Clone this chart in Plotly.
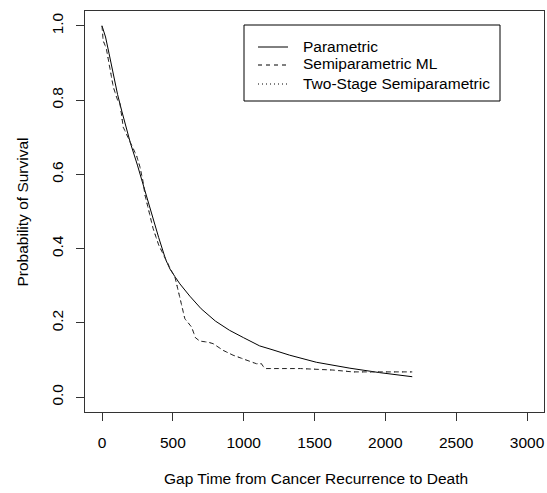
import plotly.graph_objects as go

# ---- data ----
param_t = [0, 25, 50, 80, 110, 140, 170, 200, 250, 300, 350, 400, 450, 480, 514,
           550, 620, 700, 800, 900, 1000, 1113, 1200, 1325, 1513, 1750, 1960, 2190]
param_s = [1.00, 0.97, 0.925, 0.865, 0.815, 0.77, 0.725, 0.685, 0.625, 0.56, 0.49,
           0.43, 0.37, 0.345, 0.325, 0.305, 0.272, 0.238, 0.205, 0.18, 0.16, 0.138,
           0.128, 0.113, 0.094, 0.078, 0.066, 0.055]

semi_t = [0, 8, 30, 80, 110, 127, 150, 197, 244, 268, 290, 303, 330, 360, 400, 450,
          490, 514, 530, 550, 585, 632, 660, 690, 750, 785, 855, 925, 1020, 1090,
          1125, 1149, 1400, 1630, 1771, 2190]
semi_s = [1.00, 0.96, 0.94, 0.835, 0.80, 0.79, 0.727, 0.686, 0.65, 0.62, 0.58, 0.545,
          0.50, 0.455, 0.41, 0.37, 0.34, 0.325, 0.30, 0.261, 0.211, 0.189, 0.16, 0.151,
          0.148, 0.144, 0.126, 0.113, 0.099, 0.090, 0.090, 0.077, 0.077, 0.073, 0.068,
          0.068]

two_t = [0, 8, 30, 80, 110, 127, 150, 197, 244, 268, 290, 303, 330, 360, 400, 450,
         490, 514, 530, 550, 585, 632, 660, 690, 750, 785, 855, 925, 1020, 1090,
         1125, 1149, 1400, 1630, 1771, 2190]
two_s = [1.00, 0.96, 0.94, 0.835, 0.80, 0.79, 0.727, 0.686, 0.65, 0.62, 0.58, 0.545,
         0.50, 0.455, 0.41, 0.37, 0.34, 0.325, 0.30, 0.261, 0.211, 0.189, 0.16, 0.151,
         0.148, 0.144, 0.126, 0.113, 0.099, 0.090, 0.090, 0.077, 0.077, 0.073, 0.068,
         0.068]

x_ticks = [0, 500, 1000, 1500, 2000, 2500, 3000]
y_ticks = [0.0, 0.2, 0.4, 0.6, 0.8, 1.0]
y_tick_labels = ["0.0", "0.2", "0.4", "0.6", "0.8", "1.0"]
legend_labels = ["Parametric", "Semiparametric ML", "Two-Stage Semiparametric"]
x_title = "Gap Time from Cancer Recurrence to Death"
y_title = "Probability of Survival"

FONT = "Liberation Sans, Arial, sans-serif"
FS = 15.5
W, H = 547, 493
ML, MR, MT, MB = 85, 3, 11, 81
PW, PH = W - ML - MR, H - MT - MB

def px(x):
    return (x - ML) / PW

def py(y):
    return (H - MB - y) / PH

dashes = ["solid", "4px,4px", "1px,3px"]

fig = go.Figure()
fig.add_trace(go.Scatter(x=param_t, y=param_s, mode="lines",
                         line=dict(color="black", width=1, dash=dashes[0]),
                         showlegend=False))
fig.add_trace(go.Scatter(x=semi_t, y=semi_s, mode="lines",
                         line=dict(color="#222", width=1, dash=dashes[1]),
                         showlegend=False))
fig.add_trace(go.Scatter(x=two_t, y=two_s, mode="lines",
                         line=dict(color="#444", width=1, dash=dashes[2]),
                         showlegend=False))

shapes = []
annotations = []
# legend box
shapes.append(dict(type="rect", xref="paper", yref="paper",
                   x0=px(244), x1=px(500), y0=py(101), y1=py(25),
                   line=dict(color="black", width=1)))
rows = [46, 64, 83]
for i, lab in enumerate(legend_labels):
    shapes.append(dict(type="line", xref="paper", yref="paper",
                       x0=px(258), x1=px(288), y0=py(rows[i] + 1), y1=py(rows[i] + 1),
                       line=dict(color="black", width=1, dash=dashes[i])))
    annotations.append(dict(xref="paper", yref="paper", x=px(301), y=py(rows[i]),
                            text=lab, showarrow=False, xanchor="left", yanchor="middle",
                            font=dict(family=FONT, size=FS, color="black")))

annotations.append(dict(xref="paper", yref="paper", x=px(ML + PW / 2 + 1), y=py(479),
                        text=x_title, showarrow=False, xanchor="center", yanchor="middle",
                        font=dict(family=FONT, size=FS, color="black")))
annotations.append(dict(xref="paper", yref="paper", x=px(22), y=py(MT + PH / 2),
                        text=y_title, showarrow=False, xanchor="center", yanchor="middle",
                        textangle=-90,
                        font=dict(family=FONT, size=FS, color="black")))

fig.update_layout(
    width=W, height=H,
    margin=dict(l=ML, r=MR, t=MT, b=MB, pad=0, autoexpand=False),
    paper_bgcolor="white", plot_bgcolor="white",
    font=dict(family=FONT, size=FS, color="black"),
    shapes=shapes, annotations=annotations,
    showlegend=False,
)
fig.update_xaxes(range=[-120, 3120], tickvals=x_ticks, ticks="outside", ticklen=8,
                 tickcolor="#333", tickwidth=1, showline=True, mirror=True,
                 linecolor="#333", linewidth=1, showgrid=False, zeroline=False,
                 ticklabelstandoff=8, automargin=False,
                 tickfont=dict(family=FONT, size=FS, color="black"))
fig.update_yaxes(range=[-0.04, 1.04], tickvals=y_ticks, ticktext=y_tick_labels,
                 ticks="outside", ticklen=8, tickangle=-90,
                 tickcolor="#333", tickwidth=1, showline=True, mirror=True,
                 linecolor="#333", linewidth=1, showgrid=False, zeroline=False,
                 ticklabelstandoff=7, automargin=False,
                 tickfont=dict(family=FONT, size=FS, color="black"))

fig.write_html("out.html", config={"displayModeBar": False},
               post_script="document.body.style.margin='0';document.body.style.padding='0';")
